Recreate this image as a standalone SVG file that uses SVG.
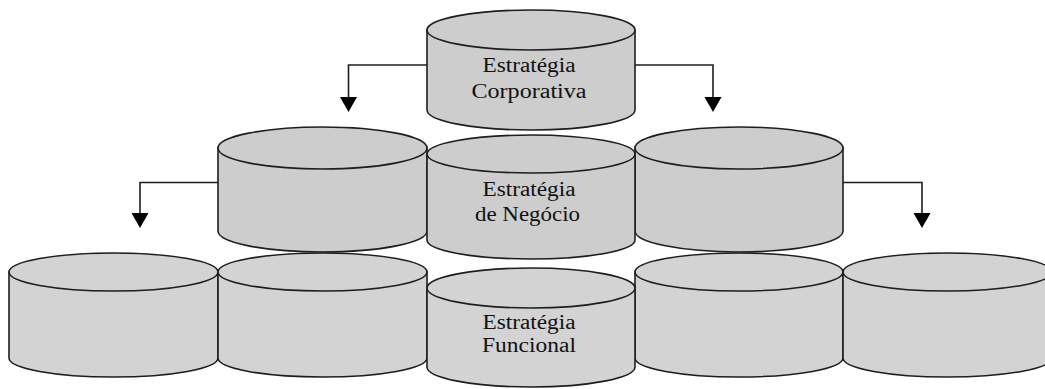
<svg xmlns="http://www.w3.org/2000/svg" width="1045" height="389" viewBox="0 0 1045 389">
<style>
.body{fill:#cdcdcd;stroke:#1e1e1e;stroke-width:1.6}
.lo .body{fill:#d3d3d3}
.conn{fill:none;stroke:#1e1e1e;stroke-width:1.6}
.head{fill:#000}
.lbl{font-family:"Liberation Serif","Times New Roman",serif;font-size:20px;fill:#111;text-anchor:middle}
</style>
<rect width="1045" height="389" fill="#fff"/>
<g id="connectors">
<path class="conn" d="M427,65 H348.5 V100"/>
<path class="conn" d="M635,65 H713 V100"/>
<path class="conn" d="M218,182.5 H140 V215"/>
<path class="conn" d="M843,182.5 H922 V215"/>
<polygon class="head" points="340,97 357,97 348.5,112"/>
<polygon class="head" points="704.5,97 721.5,97 713,112"/>
<polygon class="head" points="131.5,213 148.5,213 140,228"/>
<polygon class="head" points="913.5,213 930.5,213 922,228"/>
</g>
<g id="node-bot1" class="lo">
<path class="body" d="M9,272 V358 A104.5,19 0 0 0 218,358 V272 Z"/>
<ellipse class="body" cx="113.5" cy="272" rx="104.5" ry="19"/>
</g>
<g id="node-bot2" class="lo">
<path class="body" d="M218,272 V358 A104.5,19 0 0 0 427,358 V272 Z"/>
<ellipse class="body" cx="322.5" cy="272" rx="104.5" ry="19"/>
</g>
<g id="node-bot4" class="lo">
<path class="body" d="M635,272 V358 A104,19 0 0 0 843,358 V272 Z"/>
<ellipse class="body" cx="739" cy="272" rx="104" ry="19"/>
</g>
<g id="node-bot5" class="lo">
<path class="body" d="M843,272 V358 A104.5,19 0 0 0 1052,358 V272 Z"/>
<ellipse class="body" cx="947.5" cy="272" rx="104.5" ry="19"/>
</g>
<g id="node-funcional" class="lo">
<path class="body" d="M427,288 V367 A104,20 0 0 0 635,367 V288 Z"/>
<ellipse class="body" cx="531" cy="288" rx="104" ry="20"/>
<text class="lbl" x="529" y="329" textLength="93" lengthAdjust="spacingAndGlyphs">Estratégia</text>
<text class="lbl" x="529" y="352" textLength="94" lengthAdjust="spacingAndGlyphs">Funcional</text>
</g>
<g id="node-mid-left">
<path class="body" d="M218,148 V231 A104.5,21 0 0 0 427,231 V148 Z"/>
<ellipse class="body" cx="322.5" cy="148" rx="104.5" ry="21"/>
</g>
<g id="node-mid-right">
<path class="body" d="M635,148 V231 A104,21 0 0 0 843,231 V148 Z"/>
<ellipse class="body" cx="739" cy="148" rx="104" ry="21"/>
</g>
<g id="node-negocio">
<path class="body" d="M427,154 V240 A104,19 0 0 0 635,240 V154 Z"/>
<ellipse class="body" cx="531" cy="154" rx="104" ry="19"/>
<text class="lbl" x="529" y="196" textLength="93" lengthAdjust="spacingAndGlyphs">Estratégia</text>
<text class="lbl" x="527.5" y="221" textLength="105" lengthAdjust="spacingAndGlyphs">de Negócio</text>
</g>
<g id="node-corporativa">
<path class="body" d="M427,30 V110 A104,20 0 0 0 635,110 V30 Z"/>
<ellipse class="body" cx="531" cy="30" rx="104" ry="20"/>
<text class="lbl" x="529" y="72" textLength="93" lengthAdjust="spacingAndGlyphs">Estratégia</text>
<text class="lbl" x="529" y="98" textLength="115" lengthAdjust="spacingAndGlyphs">Corporativa</text>
</g>
</svg>
